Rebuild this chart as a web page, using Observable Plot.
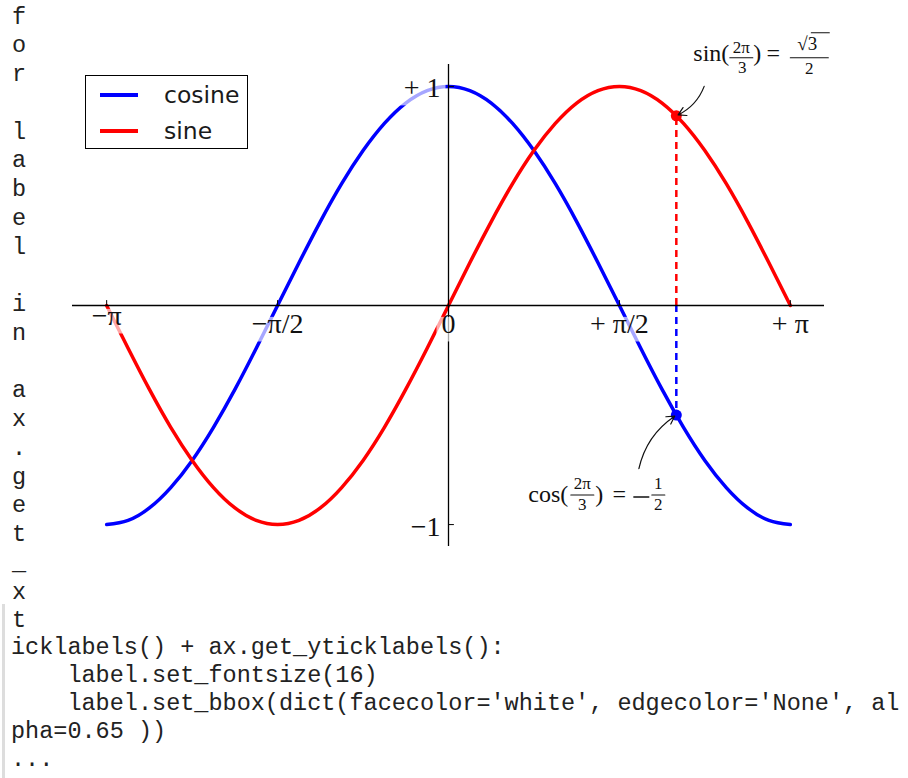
<!DOCTYPE html>
<html>
<head>
<meta charset="utf-8">
<script src="https://cdn.jsdelivr.net/npm/d3@7"></script>
<script src="https://cdn.jsdelivr.net/npm/@observablehq/plot@0.6"></script>
<style>
  html, body { margin: 0; padding: 0; background: #fff; overflow: hidden; }
  #wrap { position: relative; width: 908px; height: 778px; overflow: hidden; }
  #chart { position: absolute; left: 0; top: 0; }
  .mono { font-family: "Liberation Mono", "DejaVu Sans Mono", monospace; font-size: 23.5px; color: #222; }
  #col { position: absolute; left: 12px; top: 0; }
  #col div { position: absolute; left: 0; height: 29px; line-height: 29px; white-space: pre; }
  #code { position: absolute; left: 11px; top: 634px; white-space: pre; line-height: 28px; margin: 0; }
  #bar { position: absolute; left: 2px; top: 604px; width: 3px; height: 174px; background: #ddd; }
  #legend { position: absolute; left: 85px; top: 75px; width: 161px; height: 72px; border: 1px solid #000; background: #fff;
            font-family: "DejaVu Sans", sans-serif; font-size: 23.5px; color: #1a1a1a; }
  #legend .sw { position: absolute; left: 14px; width: 38px; height: 3.5px; }
  #legend .lb { position: absolute; left: 78px; line-height: 26px; }
</style>
</head>
<body>
<div id="wrap">
  <div id="chart"></div>
  <div id="col" class="mono"></div>
  <div id="bar"></div>
  <pre id="code" class="mono"></pre>
  <div id="legend"></div>
</div>
<script>
// ---- data ----
const xs = [-3.142,-2.945,-2.749,-2.553,-2.356,-2.160,-1.963,-1.767,-1.571,-1.374,-1.178,-0.982,-0.785,-0.589,-0.393,-0.196,0,
            0.196,0.393,0.589,0.785,0.982,1.178,1.374,1.571,1.767,1.963,2.160,2.356,2.553,2.749,2.945,3.142];
const cosine = [-1,-0.981,-0.924,-0.831,-0.707,-0.556,-0.383,-0.195,0,0.195,0.383,0.556,0.707,0.831,0.924,0.981,1,
                0.981,0.924,0.831,0.707,0.556,0.383,0.195,0,-0.195,-0.383,-0.556,-0.707,-0.831,-0.924,-0.981,-1];
const sine = [0,-0.195,-0.383,-0.556,-0.707,-0.831,-0.924,-0.981,-1,-0.981,-0.924,-0.831,-0.707,-0.556,-0.383,-0.195,0,
              0.195,0.383,0.556,0.707,0.831,0.924,0.981,1,0.981,0.924,0.831,0.707,0.556,0.383,0.195,0];
const seriesNames = ["cosine", "sine"];
const seriesColors = ["blue", "red"];

const xTicks = [-3.142, -1.571, 0, 1.571, 3.142];
const xTickLabels = ["−π", "−π/2", "0", "+ π/2", "+ π"];
const yTicks = [-1, 1];
const yTickLabels = ["−1", "+ 1"];

const markedX = 2.094;              // 2π/3
const markedSeries = ["sine", "cosine"];
const markedValues = [0.866, -0.5];
const noteFromX = [2.35, 1.75];
const noteFromY = [1.0, -0.745];

const columnText = "for label in ax.get_xt";
const codeLines = [
  "icklabels() + ax.get_yticklabels():",
  "    label.set_fontsize(16)",
  "    label.set_bbox(dict(facecolor='white', edgecolor='None', al",
  "pha=0.65 ))",
  "..."
];

// ---- build tables ----
const rows = [];
seriesNames.forEach((s, k) => {
  const ys = k === 0 ? cosine : sine;
  xs.forEach((x, i) => rows.push({series: s, x, y: ys[i]}));
});
const marked = markedSeries.map((s, i) => ({series: s, x: markedX, y: markedValues[i]}));
const arrows = marked.map((m, i) => ({x1: noteFromX[i], y1: noteFromY[i], x2: m.x, y2: m.y}));
const sinPt = [marked[0]];
const cosPt = [marked[1]];

const SERIF = "'Liberation Serif', 'DejaVu Serif', serif";
const INK = "#111";
const lineShape = {draw(ctx, l) { ctx.moveTo(0, 0); ctx.lineTo(0, -l); }};

function piece(pt, text, dx, dy, size, anchor = "middle") {
  return Plot.text(pt, {x: "x", y: "y", text: () => text, dx, dy, fontSize: size,
    textAnchor: anchor, fontFamily: SERIF, fill: INK});
}
function fracBar(pt, len, dx, dy, w = 1.1) {
  return Plot.vector(pt, {x: "x", y: "y", length: len, rotate: 90, anchor: "middle",
    shape: lineShape, dx, dy, stroke: INK, strokeWidth: w});
}

const M = 24, S = 17, T = 28;

const chart = Plot.plot({
  width: 908,
  height: 600,
  marginLeft: 72,
  marginRight: 84,
  marginTop: 64,
  marginBottom: 54,
  style: {background: "transparent", overflow: "visible"},
  x: {domain: [-3.456, 3.456], axis: null},
  y: {domain: [-1.1, 1.1], axis: null},
  color: {domain: seriesNames, range: seriesColors},
  marks: [
    Plot.line(rows, {x: "x", y: "y", z: "series", stroke: "series", strokeWidth: 3.5, curve: "natural"}),
    Plot.ruleX(marked, {x: "x", y1: () => 0, y2: "y", stroke: "series", strokeWidth: 2.5, strokeDasharray: "7,5"}),
    Plot.dot(marked, {x: "x", y: "y", fill: "series", r: 5.5}),
    // spines through the origin
    Plot.ruleY([0], {stroke: "#000", strokeWidth: 1.3}),
    Plot.ruleX([0], {stroke: "#000", strokeWidth: 1.3}),
    // ticks pointing inward
    Plot.vector(xTicks, {x: d => d, y: () => 0, length: 5, rotate: 0, anchor: "start", shape: lineShape, stroke: "#000", strokeWidth: 1}),
    Plot.vector(yTicks, {x: () => 0, y: d => d, length: 5, rotate: 90, anchor: "start", shape: lineShape, stroke: "#000", strokeWidth: 1}),
    // tick labels
    Plot.text(xTicks.slice(0, 1), {x: d => d, y: () => 0, text: (d, i) => xTickLabels[i], dy: 11, fontSize: T,
      fontFamily: SERIF, fill: INK}),
    Plot.text(xTicks.slice(1), {x: d => d, y: () => 0, text: (d, i) => xTickLabels[i + 1], dy: 19, fontSize: T,
      fontFamily: SERIF, fill: INK}),
    Plot.text(yTicks, {x: () => 0, y: d => d, text: (d, i) => yTickLabels[i], dx: -8, dy: 2, textAnchor: "end", fontSize: T,
      fontFamily: SERIF, fill: INK}),
    // annotation arrows
    Plot.arrow(arrows, {x1: "x1", y1: "y1", x2: "x2", y2: "y2", bend: true, stroke: INK, strokeWidth: 1.2,
      headLength: 11, insetEnd: 2}),
    // sin(2π/3) = √3/2
    piece(sinPt, "sin(", 53, -62, M, "end"),
    piece(sinPt, "2π", 65, -68, S),
    fracBar(sinPt, 23, 65, -58),
    piece(sinPt, "3", 66, -48, S),
    piece(sinPt, ")", 77, -62, M, "start"),
    piece(sinPt, "=", 97, -62, M),
    piece(sinPt, "√3", 131, -72, S + 2),
    fracBar(sinPt, 18, 144, -83),
    fracBar(sinPt, 38, 133, -58),
    piece(sinPt, "2", 133, -47, S),
    // cos(2π/3) = −1/2
    piece(cosPt, "cos(", -108, 79, M, "end"),
    piece(cosPt, "2π", -94, 69, S),
    fracBar(cosPt, 23, -94, 80),
    piece(cosPt, "3", -94, 90, S),
    piece(cosPt, ")", -81, 79, M, "start"),
    piece(cosPt, "=", -57, 79, M),
    fracBar(cosPt, 15, -35, 82, 1.4),
    piece(cosPt, "1", -18, 69, S),
    fracBar(cosPt, 13, -18, 80),
    piece(cosPt, "2", -18, 90, S)
  ]
});

document.getElementById("chart").appendChild(chart);

// semi-transparent white boxes behind tick labels (tight around the glyphs, plus a small pad)
const svgBox = chart.getBoundingClientRect();
const tickLabelSet = new Set([...xTickLabels, ...yTickLabels]);
Array.from(chart.querySelectorAll("text")).forEach(t => {
  if (!tickLabelSet.has(t.textContent)) return;
  const b = t.getBoundingClientRect();
  const top = b.top + 0.3 * T;
  const r = document.createElementNS("http://www.w3.org/2000/svg", "rect");
  r.setAttribute("x", b.left - svgBox.left - 5);
  r.setAttribute("y", top - svgBox.top);
  r.setAttribute("width", b.width + 10);
  r.setAttribute("height", b.bottom - top + 2);
  r.setAttribute("fill", "white");
  r.setAttribute("fill-opacity", 0.65);
  const g = t.parentNode;
  g.parentNode.insertBefore(r, g);
});

// legend
const legend = document.getElementById("legend");
seriesNames.forEach((s, i) => {
  const cy = 19 + i * 36;
  const sw = document.createElement("div");
  sw.className = "sw";
  sw.style.top = (cy - 1.75) + "px";
  sw.style.background = seriesColors[i];
  const lb = document.createElement("div");
  lb.className = "lb";
  lb.style.top = (cy - 13) + "px";
  lb.textContent = s;
  legend.appendChild(sw);
  legend.appendChild(lb);
});

// wrapped text column
const col = document.getElementById("col");
columnText.split("").forEach((ch, i) => {
  const d = document.createElement("div");
  d.style.top = (16 + i * 28.76 - 13.5) + "px";
  d.textContent = ch;
  col.appendChild(d);
});
document.getElementById("code").textContent = codeLines.join("\n");
</script>
</body>
</html>
